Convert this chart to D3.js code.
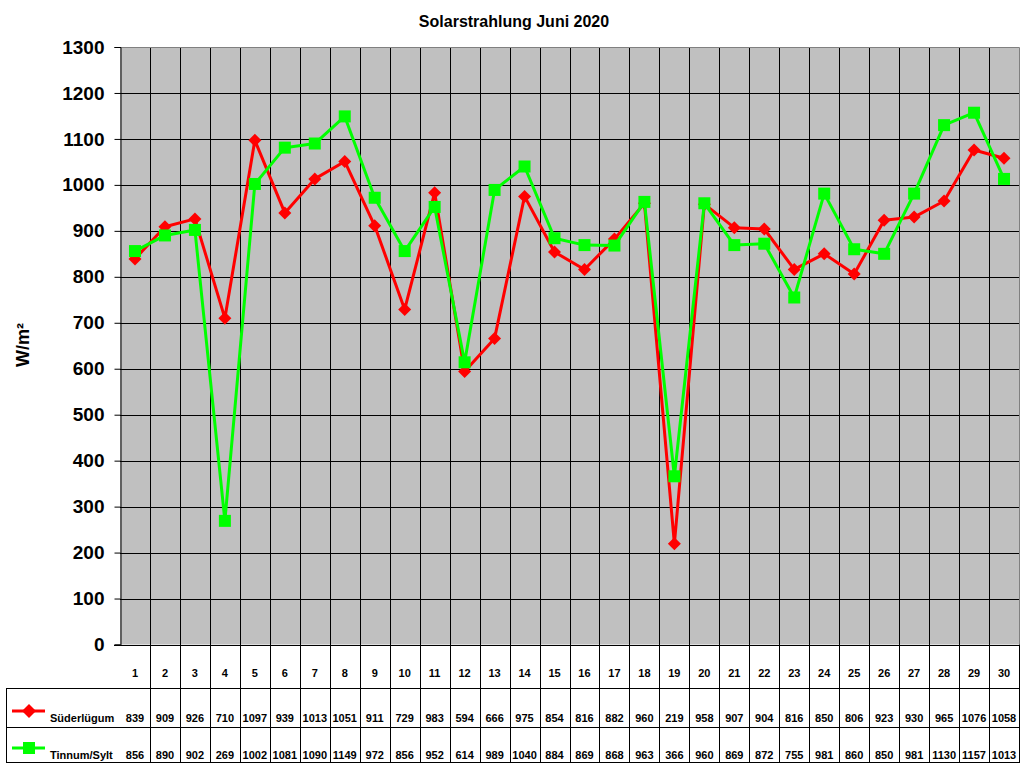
<!DOCTYPE html>
<html><head><meta charset="utf-8">
<script src="https://cdn.jsdelivr.net/npm/d3@7"></script>
<style>body{margin:0;background:#fff}svg{display:block}text{font-family:Arial,"Liberation Sans",sans-serif;font-weight:bold}</style>
</head><body>
<svg id="c" width="1024" height="768"></svg>
<script>
const days = d3.range(1,31).map(String);
const seriesNames = ["Süderlügum","Tinnum/Sylt"];
const suederluegum = [839,909,926,710,1097,939,1013,1051,911,729,983,594,666,975,854,816,882,960,219,958,907,904,816,850,806,923,930,965,1076,1058];
const tinnum = [856,890,902,269,1002,1081,1090,1149,972,856,952,614,989,1040,884,869,868,963,366,960,869,872,755,981,860,850,981,1130,1157,1013];
const yTicks = [0,100,200,300,400,500,600,700,800,900,1000,1100,1200,1300];
const colors = ["#ff0000","#00ff00"];

const svg = d3.select("#c");
const L=120, R=1019, T=47, B=644.5;
const x = d3.scaleBand().domain(days).range([L,R]);
const y = d3.scaleLinear().domain([0,1300]).range([B,T]);

svg.append("rect").attr("x",L).attr("y",T).attr("width",R-L).attr("height",B-T).attr("fill","#c0c0c0");

// horizontal gridlines
svg.append("g").selectAll("line").data(yTicks.filter(d=>d>0&&d<1300)).join("line")
  .attr("x1",L).attr("x2",R).attr("y1",d=>Math.round(y(d))+0.5).attr("y2",d=>Math.round(y(d))+0.5)
  .attr("stroke","#000").attr("stroke-width",1);
// vertical gridlines through plot and table
svg.append("g").selectAll("line").data(days.slice(1)).join("line")
  .attr("x1",d=>Math.round(x(d))+0.5).attr("x2",d=>Math.round(x(d))+0.5).attr("y1",T).attr("y2",762)
  .attr("stroke","#000");
// plot border top/right gray
svg.append("path").attr("d",`M${L},${T+0.5}H${R+0.5}V${B}`).attr("fill","none").attr("stroke","#808080");

// y axis
const yAxis = d3.axisLeft(y).tickValues(yTicks).tickFormat(d3.format("d")).tickSize(6).tickPadding(10);
const ga = svg.append("g").attr("transform",`translate(${L+0.5},0)`).call(yAxis);
ga.select(".domain").attr("stroke","#000");
ga.selectAll(".tick line").attr("stroke","#000");
ga.selectAll(".tick text").attr("font-size",19).attr("font-family","Arial, 'Liberation Sans', sans-serif").attr("font-weight","bold").attr("fill","#000");

// zero line / table lines
svg.append("line").attr("x1",114).attr("x2",R+0.5).attr("y1",Math.round(B)+0.5).attr("y2",Math.round(B)+0.5).attr("stroke","#000");
[688,727,762].forEach(v=>svg.append("line").attr("x1",6).attr("x2",R+0.5).attr("y1",v+0.5).attr("y2",v+0.5).attr("stroke","#000"));
svg.append("line").attr("x1",6.5).attr("x2",6.5).attr("y1",688).attr("y2",763).attr("stroke","#000");
svg.append("line").attr("x1",R+0.5).attr("x2",R+0.5).attr("y1",B).attr("y2",763).attr("stroke","#000");

// header labels
svg.append("g").selectAll("text").data(days).join("text")
  .attr("x",d=>x(d)+x.bandwidth()/2).attr("y",677).attr("text-anchor","middle").attr("font-size",11).text(d=>d);

const cx = d=>x(d)+x.bandwidth()/2;
const all = [suederluegum,tinnum];
const line = d3.line().x((d,i)=>cx(days[i])).y(d=>y(d));

all.forEach((vals,si)=>{
  svg.append("path").attr("d",line(vals)).attr("fill","none").attr("stroke",colors[si]).attr("stroke-width",3).attr("stroke-linejoin","round");
  const g = svg.append("g");
  if(si===0){
    g.selectAll("path").data(vals).join("path")
      .attr("d",(d,i)=>{const px=cx(days[i]),py=y(d);return `M${px},${py-6.5}L${px+6.5},${py}L${px},${py+6.5}L${px-6.5},${py}Z`;})
      .attr("fill",colors[0]);
  } else {
    g.selectAll("rect").data(vals).join("rect")
      .attr("x",(d,i)=>cx(days[i])-6).attr("y",d=>y(d)-6).attr("width",12).attr("height",12).attr("fill",colors[1]);
  }
  // table row
  const rowBase = si===0?722:759;
  svg.append("g").selectAll("text").data(vals).join("text")
    .attr("x",(d,i)=>cx(days[i])).attr("y",rowBase).attr("text-anchor","middle").attr("font-size",11).text(d=>d);
  // legend
  const ly = si===0?711:748;
  svg.append("line").attr("x1",12).attr("x2",45).attr("y1",ly).attr("y2",ly).attr("stroke",colors[si]).attr("stroke-width",3);
  if(si===0) svg.append("path").attr("d",`M29,${ly-7}L36,${ly}L29,${ly+7}L22,${ly}Z`).attr("fill",colors[0]);
  else svg.append("rect").attr("x",23).attr("y",ly-6).attr("width",12).attr("height",12).attr("fill",colors[1]);
  svg.append("text").attr("x",50).attr("y",rowBase).attr("font-size",11).text(seriesNames[si]);
});

// title
svg.append("text").attr("x",514).attr("y",27).attr("text-anchor","middle").attr("font-size",16).text("Solarstrahlung Juni 2020");
// y title
svg.append("text").attr("transform","translate(29,345) rotate(-90)").attr("text-anchor","middle").attr("font-size",18).text("W/m²");
</script>
</body></html>
